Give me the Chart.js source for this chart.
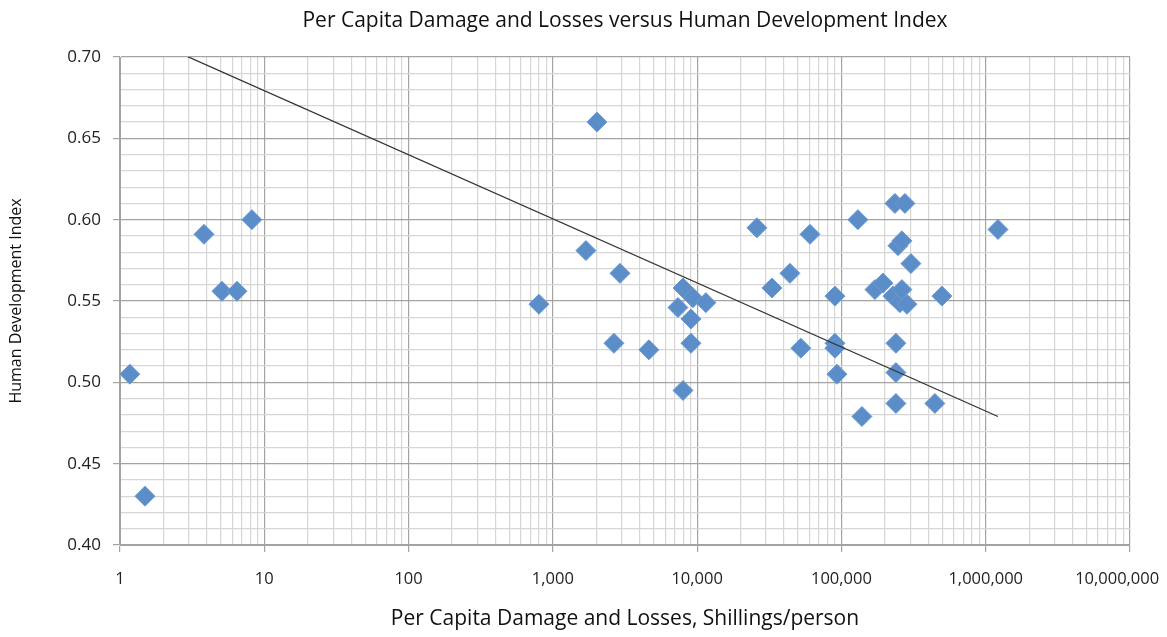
<!DOCTYPE html>
<html>
<head>
<meta charset="utf-8">
<script src="https://cdn.jsdelivr.net/npm/chart.js@4/dist/chart.umd.min.js"></script>
<style>
  body { margin: 0; background: #fff; }
  canvas { display: block; }
</style>
</head>
<body>
<canvas id="grafico" width="1167" height="637"></canvas>
<script>
// ---- dados ----
const damagePerCapita = [
  1.17, 1.49, 3.82, 8.2, 5.09, 6.47,
  801, 2020, 1695, 2920, 2650, 4630, 7980, 7980, 7360, 9350, 11500, 9060, 9060,
  25950, 43960, 32980, 52360, 60530, 90130, 90130, 90130, 93100,
  130000, 138700, 170700, 194000, 227400, 234800, 238600, 238600, 238600,
  246500, 254300, 262500, 262500, 275500, 284500, 303200, 444400, 497000, 1216000
];
const hdi = [
  0.505, 0.430, 0.591, 0.600, 0.556, 0.556,
  0.548, 0.660, 0.581, 0.567, 0.524, 0.520, 0.495, 0.558, 0.546, 0.552, 0.549, 0.539, 0.524,
  0.595, 0.567, 0.558, 0.521, 0.591, 0.553, 0.524, 0.521, 0.505,
  0.600, 0.479, 0.557, 0.561, 0.553, 0.610, 0.524, 0.506, 0.487,
  0.584, 0.549, 0.587, 0.557, 0.610, 0.548, 0.573, 0.487, 0.553, 0.594
];

// linha de tendência (pontos extremos)
const trendX = [1.17, 1216000];
const trendY = [0.716, 0.479];

// eixos
const xMajor = [1, 10, 100, 1000, 10000, 100000, 1000000, 10000000];
const xMajorLabels = ["1", "10", "100", "1,000", "10,000", "100,000", "1,000,000", "10,000,000"];
const xSteps = [1, 2, 3, 4, 5, 6, 7, 8, 9];
const yMajorLabels = ["0.40", "0.45", "0.50", "0.55", "0.60", "0.65", "0.70"];

const titulo = "Per Capita Damage and Losses versus Human Development Index";

const corMaior = "#a3a3a3";
const corMenor = "#d6d6d6";

// posições de grade do eixo x (1..9 por década)
const xGrid = [];
xMajor.slice(0, -1).forEach(d => xSteps.forEach(s => xGrid.push(d * s)));
xGrid.push(10000000);

// posições de grade do eixo y (a cada 0.01)
const yGrid = [];
for (let i = 40; i <= 70; i++) yGrid.push(i);

const pontos = damagePerCapita.map((x, i) => ({ x: x, y: hdi[i] }));
const tendencia = trendX.map((x, i) => ({ x: x, y: trendY[i] }));

const fonte = "'Open Sans', sans-serif";

// título centrado sobre a área do gráfico
const tituloCentrado = {
  id: "tituloCentrado",
  afterDraw(chart) {
    const { ctx, chartArea } = chart;
    ctx.save();
    ctx.font = "21px " + fonte;
    ctx.fillStyle = "#111";
    ctx.textAlign = "center";
    ctx.textBaseline = "middle";
    ctx.fillText(titulo, (chartArea.left + chartArea.right) / 2, 21);
    ctx.restore();
  }
};

new Chart(document.getElementById("grafico"), {
  type: "scatter",
  data: {
    datasets: [
      {
        label: "Tendência",
        data: tendencia,
        showLine: true,
        borderColor: "#333333",
        borderWidth: 1.3,
        pointRadius: 0,
        order: 0
      },
      {
        label: "HDI",
        data: pontos,
        pointStyle: "rectRot",
        pointRadius: 10,
        backgroundColor: "#5b8ec8",
        borderColor: "#6a9ad0",
        borderWidth: 1,
        order: 1
      }
    ]
  },
  plugins: [tituloCentrado],
  options: {
    responsive: false,
    animation: false,
    layout: { padding: { left: 0, right: 37, top: 57, bottom: 0 } },
    plugins: {
      legend: { display: false },
      tooltip: { enabled: false },
      title: { display: false }
    },
    scales: {
      x: {
        type: "logarithmic",
        min: 1,
        max: 10000000,
        afterBuildTicks: scale => { scale.ticks = xGrid.map(v => ({ value: v })); },
        afterFit: scale => { scale.height = 92; scale.paddingRight = 37; scale.paddingLeft = 0; },
        border: { color: corMaior },
        grid: {
          color: ctx => xMajor.includes(ctx.tick && ctx.tick.value) ? corMaior : corMenor,
          tickColor: ctx => xMajor.includes(ctx.tick && ctx.tick.value) ? corMaior : "rgba(0,0,0,0)",
          tickLength: 7,
          lineWidth: 1.2
        },
        ticks: {
          autoSkip: false,
          maxRotation: 0,
          padding: 17,
          color: "#222",
          font: { family: fonte, size: 16.5 },
          callback: v => {
            const k = xMajor.indexOf(v);
            if (k < 0) return "";
            // último rótulo empurrado para dentro, como no original
            return k === xMajor.length - 1 ? xMajorLabels[k] + "      " : xMajorLabels[k];
          }
        },
        title: {
          display: true,
          text: "Per Capita Damage and Losses, Shillings/person",
          color: "#111",
          font: { family: fonte, size: 21 },
          padding: { top: 4, bottom: 5 }
        }
      },
      y: {
        min: 0.40,
        max: 0.70,
        afterBuildTicks: scale => { scale.ticks = yGrid.map(i => ({ value: i / 100 })); },
        afterFit: scale => { scale.width = 120; },
        border: { color: corMaior },
        grid: {
          color: ctx => (ctx.tick && Math.round(ctx.tick.value * 100) % 5 === 0) ? corMaior : corMenor,
          tickColor: ctx => (ctx.tick && Math.round(ctx.tick.value * 100) % 5 === 0) ? corMaior : "rgba(0,0,0,0)",
          tickLength: 7,
          lineWidth: 1.2
        },
        ticks: {
          autoSkip: false,
          padding: 12,
          color: "#222",
          font: { family: fonte, size: 17 },
          callback: v => {
            const c = Math.round(v * 100);
            return c % 5 === 0 ? yMajorLabels[(c - 40) / 5] : "";
          }
        },
        title: {
          display: true,
          text: "Human Development Index",
          color: "#111",
          font: { family: fonte, size: 16 },
          padding: { top: 7, bottom: 4 }
        }
      }
    }
  }
});
</script>
</body>
</html>
